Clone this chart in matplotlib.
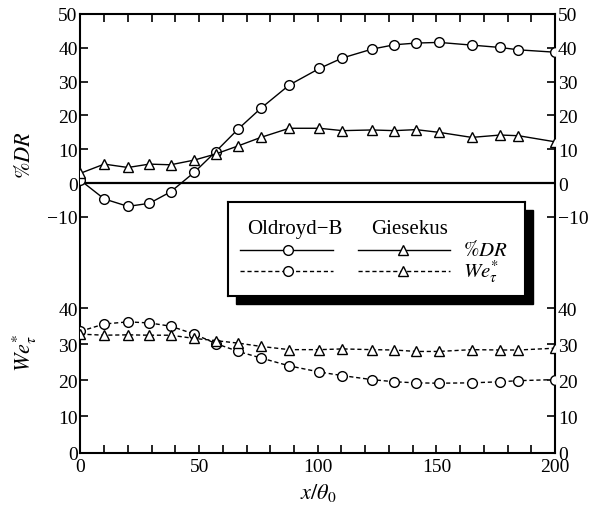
import numpy as np
import matplotlib
matplotlib.use('Agg')
import matplotlib.pyplot as plt
from matplotlib.patches import Rectangle
from matplotlib.ticker import MultipleLocator

plt.rcParams['font.family'] = ['Liberation Serif', 'DejaVu Serif']
plt.rcParams['mathtext.fontset'] = 'stix'
plt.rcParams['font.size'] = 14

# streamwise positions x/theta_0
x = [0, 10, 20, 29, 38, 48, 57, 66.5, 76, 88, 100.7, 110.4, 122.8, 132.3,
     141.4, 151.1, 164.9, 176.9, 184.6, 200]

# %DR
dr_oldroyd = [0.8, -4.7, -6.9, -6.0, -2.6, 3.2, 9.3, 16.0, 22.1, 29.0, 33.9,
              37.0, 39.6, 40.9, 41.4, 41.6, 40.8, 40.1, 39.4, 38.7]
dr_giesekus = [2.9, 5.6, 4.6, 5.6, 5.4, 6.8, 8.6, 11.0, 13.5, 16.2, 16.2,
               15.5, 15.7, 15.5, 15.8, 15.0, 13.5, 14.2, 14.0, 12.2]

# We_tau*
we_oldroyd = [33.6, 35.6, 36.2, 35.9, 35.0, 32.8, 30.2, 28.0, 26.2, 24.0, 22.3,
              21.3, 20.2, 19.6, 19.3, 19.2, 19.3, 19.6, 19.9, 20.2]
we_giesekus = [32.8, 32.5, 32.6, 32.5, 32.5, 31.6, 31.0, 30.3, 29.4, 28.5, 28.5,
               28.7, 28.5, 28.4, 28.0, 28.0, 28.5, 28.4, 28.4, 28.9]

W, H = 602, 506
fig = plt.figure(figsize=(W / 100, H / 100), dpi=100)

L, R, T, B = 80.5, 555, 15, 453.5
pos = [L / W, 1 - B / H, (R - L) / W, (B - T) / H]

mk = dict(markersize=7, markerfacecolor='white', markeredgecolor='black',
          markeredgewidth=1.0, color='black', lw=1.0)

ax1 = fig.add_axes(pos)
ax1.set_xlim(0, 200)
ax1.set_ylim(-79.7, 50)
ax1.axhline(0, color='black', lw=1.6, zorder=1)
ax1.plot(x, dr_oldroyd, marker='o', zorder=3, **mk)
ax1.plot(x, dr_giesekus, marker='^', zorder=3, **mk)
ax1.set_yticks([-10, 0, 10, 20, 30, 40, 50])
ax1.set_yticklabels(['\u221210', '0', '10', '20', '30', '40', '50'])
ax1.xaxis.set_major_locator(MultipleLocator(50))
ax1.xaxis.set_minor_locator(MultipleLocator(10))
ax1.tick_params(axis='both', which='both', direction='in', length=6, width=1.2,
                top=True, right=True, labelright=True, pad=2)
ax1.tick_params(axis='x', pad=4)
for s in ax1.spines.values():
    s.set_linewidth(1.5)

ax2 = fig.add_axes(pos, sharex=ax1)
ax2.patch.set_visible(False)
for s in ax2.spines.values():
    s.set_visible(False)
ax2.set_ylim(0, 121.5)
ax2.plot(x, we_oldroyd, marker='o', dashes=(3, 2), zorder=3, **mk)
ax2.plot(x, we_giesekus, marker='^', dashes=(3, 2), zorder=3, **mk)
ax2.set_yticks([0, 10, 20, 30, 40])
ax2.tick_params(axis='y', direction='in', length=6, width=1.2,
                left=True, right=True, labelleft=True, labelright=True, pad=2)
ax2.tick_params(axis='x', which='both', bottom=False, top=False,
                labelbottom=False)

fig.text(25 / W, 1 - 155 / H, r'$\%DR$', rotation=90, ha='center', va='center',
         fontsize=16)
fig.text(25 / W, 1 - 353 / H, r'$We_{\tau}^{*}$', rotation=90, ha='center',
         va='center', fontsize=16)
fig.text(318 / W, 1 - 493 / H, r'$x/\theta_0$', ha='center', va='center',
         fontsize=16)

# legend box with shadow
bx0, bx1, by0, by1 = 228, 525, 203, 297
off = 8
fig.patches.append(Rectangle(((bx0 + off) / W, 1 - (by1 + off) / H),
                             (bx1 - bx0) / W, (by1 - by0) / H,
                             transform=fig.transFigure, facecolor='black',
                             edgecolor='black', zorder=5))
lg = fig.add_axes([bx0 / W, 1 - by1 / H, (bx1 - bx0) / W, (by1 - by0) / H])
lg.set_zorder(6)
lg.set_xlim(0, 1)
lg.set_ylim(0, 1)
lg.set_xticks([])
lg.set_yticks([])
for s in lg.spines.values():
    s.set_linewidth(1.5)

lg.text(0.226, 0.72, 'Oldroyd\u2212B', ha='center', va='center', fontsize=15)
lg.text(0.613, 0.72, 'Giesekus', ha='center', va='center', fontsize=15)
rows = [(0.49, None, r'$\%DR$'), (0.27, (3, 2), r'$We_{\tau}^{*}$')]
for yy, ds, lab in rows:
    for (x0, x1, xm, m) in [(0.04, 0.354, 0.202, 'o'), (0.438, 0.747, 0.589, '^')]:
        if ds is None:
            lg.plot([x0, x1], [yy, yy], color='black', lw=1.0)
        else:
            lg.plot([x0, x1], [yy, yy], color='black', lw=1.0, dashes=ds)
        lg.plot([xm], [yy], marker=m, linestyle='none', markersize=7,
                markerfacecolor='white', markeredgecolor='black',
                markeredgewidth=1.0)
    lg.text(0.79, yy, lab, ha='left', va='center', fontsize=15)

fig.savefig('out.png', dpi=100)
